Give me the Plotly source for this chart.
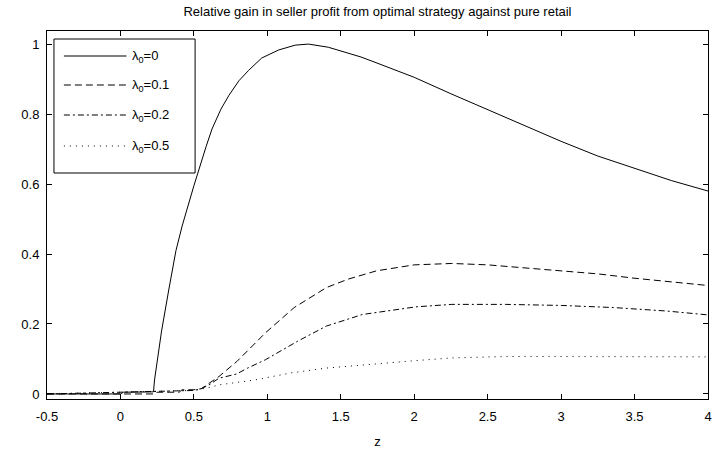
import plotly.graph_objects as go

# Relative gain curves for several values of lambda_0
names = ["λ<sub>0</sub>=0", "λ<sub>0</sub>=0.1", "λ<sub>0</sub>=0.2", "λ<sub>0</sub>=0.5"]

z_l0 = [-0.5, 0.0, 0.02, 0.225, 0.232, 0.28, 0.33, 0.378, 0.42, 0.46, 0.5, 0.583, 0.623,
        0.684, 0.738, 0.806, 0.873, 0.961, 1.076, 1.19, 1.28, 1.415, 1.53, 1.638,
        1.733, 2.0, 2.25, 2.5, 2.75, 3.0, 3.25, 3.5, 3.75, 4.0]
g_l0 = [0.0, 0.0, 0.005, 0.006, 0.04, 0.18, 0.30, 0.41, 0.48, 0.54, 0.595, 0.707, 0.757,
        0.814, 0.853, 0.895, 0.925, 0.96, 0.983, 0.997, 1.0, 0.991, 0.977, 0.963,
        0.948, 0.905, 0.858, 0.812, 0.766, 0.722, 0.68, 0.644, 0.61, 0.58]

z_l01 = [-0.5, 0.24, 0.25, 0.4, 0.42, 0.5, 0.55, 0.6, 0.671, 0.793, 0.988, 1.183,
         1.402, 1.549, 1.744, 2.0, 2.256, 2.5, 2.744, 3.0, 3.256, 3.495, 3.72, 4.0]
g_l01 = [0.0, 0.0, 0.005, 0.005, 0.012, 0.012, 0.015, 0.03, 0.05, 0.093, 0.175, 0.247,
         0.304, 0.328, 0.352, 0.369, 0.373, 0.369, 0.36, 0.352, 0.343, 0.331, 0.321, 0.31]

z_l02 = [-0.5, 0.5, 0.55, 0.6, 0.671, 0.79, 0.866, 0.988, 1.207, 1.402, 1.646, 1.89,
         2.012, 2.256, 2.622, 3.0, 3.354, 3.72, 4.0]
g_l02 = [0.0, 0.01, 0.015, 0.025, 0.045, 0.057, 0.074, 0.098, 0.151, 0.194, 0.227, 0.242,
         0.249, 0.256, 0.256, 0.253, 0.247, 0.237, 0.226]

z_l05 = [-0.5, 0.5, 0.6, 0.671, 0.915, 1.159, 1.402, 1.646, 2.0, 2.256, 2.622, 3.0, 3.5, 4.0]
g_l05 = [0.0, 0.01, 0.018, 0.026, 0.04, 0.06, 0.074, 0.083, 0.095, 0.103, 0.107, 0.107,
         0.107, 0.106]

x_ticks = [-0.5, 0, 0.5, 1, 1.5, 2, 2.5, 3, 3.5, 4]
x_tick_text = ["-0.5", "0", "0.5", "1", "1.5", "2", "2.5", "3", "3.5", "4"]
y_ticks = [0, 0.2, 0.4, 0.6, 0.8, 1]
y_tick_text = ["0", "0.2", "0.4", "0.6", "0.8", "1"]

series = [(z_l0, g_l0), (z_l01, g_l01), (z_l02, g_l02), (z_l05, g_l05)]
dashes = ["solid", "7px,4px", "6px,3px,2px,3px", "1px,5px"]

FONT = "Liberation Sans, Arial, sans-serif"
W, H = 715, 460
ML, MR, MT, MB = 47, 3, 31, 61

fig = go.Figure()
for (zs, gs), name, dash in zip(series, names, dashes):
    fig.add_trace(go.Scatter(x=zs, y=gs, mode="lines", name=name, showlegend=False,
                             line=dict(color="black", width=1, dash=dash)))

# Boxed legend in the upper-left corner of the axes
pw, ph = W - ML - MR, H - MT - MB
def px(xp):
    return (xp - ML) / pw
def py(yp):
    return (H - MB - yp) / ph

shapes = [dict(type="rect", xref="paper", yref="paper",
               x0=px(54), x1=px(196), y0=py(173), y1=py(39),
               line=dict(color="black", width=1), fillcolor="white", layer="above")]
annotations = []
row_y = [56, 85, 115, 146]
for name, dash, ry in zip(names, dashes, row_y):
    shapes.append(dict(type="line", xref="paper", yref="paper",
                       x0=px(64), x1=px(127), y0=py(ry), y1=py(ry),
                       line=dict(color="black", width=1, dash=dash), layer="above"))
    annotations.append(dict(xref="paper", yref="paper", x=px(131), y=py(ry),
                            text=name, showarrow=False, xanchor="left", yanchor="middle",
                            font=dict(family=FONT, size=13, color="black")))

axis_common = dict(showgrid=False, zeroline=False, showline=True, linecolor="black",
                   linewidth=1, mirror="ticks", ticks="inside", ticklen=5,
                   tickcolor="black", tickwidth=1, ticklabeloverflow="allow",
                   tickfont=dict(family=FONT, size=13, color="black"))

fig.update_layout(
    width=W, height=H,
    margin=dict(l=ML, r=MR, t=MT, b=MB),
    paper_bgcolor="white", plot_bgcolor="white",
    title=dict(text="Relative gain in seller profit from optimal strategy against pure retail",
               x=0.5, xref="paper", y=1 - 11 / H, yanchor="middle",
               font=dict(family=FONT, size=13, color="black")),
    xaxis=dict(range=[-0.5, 4], tickvals=x_ticks, ticktext=x_tick_text,
               ticklabelstandoff=5,
               title=dict(text="z", font=dict(family=FONT, size=13, color="black"), standoff=14),
               **axis_common),
    yaxis=dict(range=[-0.0144, 1.0374], tickvals=y_ticks, ticktext=y_tick_text,
               ticklabelstandoff=4,
               **axis_common),
    shapes=shapes, annotations=annotations,
    showlegend=False,
)

fig.write_html("out.html")
